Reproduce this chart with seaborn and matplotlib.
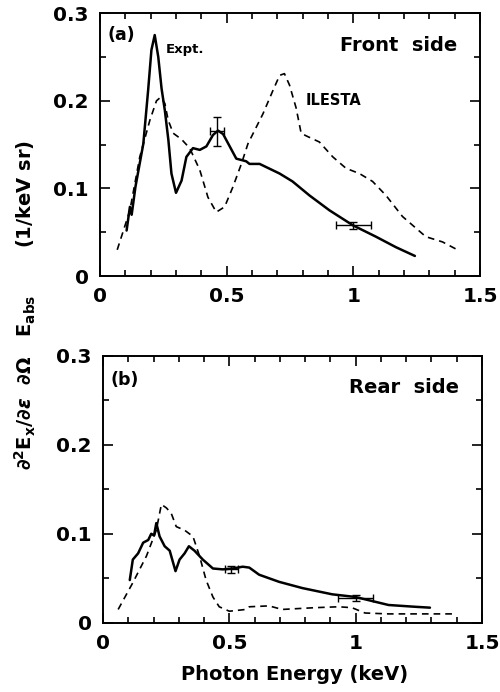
import numpy as np
import pandas as pd
import matplotlib
matplotlib.use("Agg")
import matplotlib.pyplot as plt
import seaborn as sns
from matplotlib.ticker import MultipleLocator, FuncFormatter

# ---------------- data ----------------
# Front side, experiment (solid)
front_expt_x = [0.105, 0.118, 0.125, 0.14, 0.171, 0.19, 0.203, 0.216, 0.23, 0.243, 0.256,
                0.27, 0.282, 0.30, 0.322, 0.341, 0.367, 0.394, 0.42, 0.446, 0.466, 0.486,
                0.512, 0.538, 0.577, 0.59, 0.63, 0.709, 0.76, 0.827, 0.906, 0.998, 1.089,
                1.168, 1.243]
front_expt_y = [0.052, 0.079, 0.070, 0.102, 0.151, 0.212, 0.258, 0.275, 0.250, 0.214, 0.189,
                0.155, 0.117, 0.095, 0.109, 0.136, 0.146, 0.144, 0.148, 0.161, 0.166, 0.162,
                0.148, 0.134, 0.131, 0.128, 0.128, 0.117, 0.108, 0.092, 0.075, 0.058, 0.045,
                0.033, 0.023]
# Front side, ILESTA (dashed)
front_sim_x = [0.068, 0.118, 0.157, 0.197, 0.223, 0.239, 0.256, 0.269, 0.289, 0.322, 0.354,
               0.394, 0.426, 0.459, 0.492, 0.525, 0.558, 0.584, 0.643, 0.683, 0.709, 0.728,
               0.748, 0.774, 0.794, 0.814, 0.866, 0.919, 0.971, 1.024, 1.076, 1.129, 1.194,
               1.286, 1.352, 1.411]
front_sim_y = [0.030, 0.075, 0.136, 0.178, 0.200, 0.204, 0.197, 0.178, 0.163, 0.156, 0.146,
               0.121, 0.090, 0.073, 0.079, 0.102, 0.128, 0.151, 0.185, 0.212, 0.229, 0.231,
               0.218, 0.192, 0.163, 0.160, 0.153, 0.136, 0.123, 0.117, 0.108, 0.092, 0.068,
               0.045, 0.039, 0.030]
front_err_x = [0.462, 1.0]
front_err_y = [0.165, 0.058]
front_err_dx = [0.026, 0.07]
front_err_dy = [0.016, 0.004]

# Rear side, experiment (solid)
rear_expt_x = [0.106, 0.118, 0.139, 0.159, 0.179, 0.191, 0.202, 0.211, 0.224, 0.244, 0.264,
               0.287, 0.303, 0.323, 0.34, 0.362, 0.395, 0.435, 0.474, 0.513, 0.553, 0.579,
               0.618, 0.697, 0.789, 0.907, 0.999, 1.13, 1.235, 1.294]
rear_expt_y = [0.048, 0.071, 0.078, 0.090, 0.093, 0.100, 0.098, 0.112, 0.097, 0.086, 0.081,
               0.058, 0.071, 0.078, 0.086, 0.081, 0.071, 0.061, 0.060, 0.061, 0.063, 0.062,
               0.054, 0.046, 0.039, 0.032, 0.029, 0.020, 0.018, 0.017]
# Rear side, ILESTA (dashed)
rear_sim_x = [0.06, 0.118, 0.172, 0.211, 0.231, 0.251, 0.27, 0.29, 0.323, 0.356, 0.382, 0.408,
              0.435, 0.46, 0.50, 0.566, 0.579, 0.657, 0.709, 0.84, 0.932, 0.985, 1.037, 1.129,
              1.234, 1.392]
rear_sim_y = [0.015, 0.045, 0.075, 0.104, 0.133, 0.129, 0.123, 0.108, 0.104, 0.097, 0.075,
              0.048, 0.029, 0.018, 0.013, 0.015, 0.018, 0.019, 0.015, 0.017, 0.018, 0.017,
              0.011, 0.010, 0.010, 0.010]
rear_err_x = [0.507, 1.0]
rear_err_y = [0.060, 0.028]
rear_err_dx = [0.026, 0.07]
rear_err_dy = [0.004, 0.003]

x_ticks = [0, 0.5, 1, 1.5]
y_ticks = [0, 0.1, 0.2, 0.3]

# ---------------- figure ----------------
sns.set_style("ticks")
plt.rcParams["font.family"] = ["DejaVu Sans"]
plt.rcParams["font.weight"] = "bold"
for k in ["text.color", "axes.labelcolor", "xtick.color", "ytick.color", "axes.edgecolor"]:
    plt.rcParams[k] = "black"

fig = plt.figure(figsize=(5.0, 6.92), dpi=100)
ax1 = fig.add_axes([0.200, 0.601, 0.760, 0.380])
ax2 = fig.add_axes([0.206, 0.100, 0.758, 0.386])


def fmt(v, pos):
    if abs(v) < 1e-9:
        return "0"
    s = ("%.1f" % v)
    if s.endswith(".0"):
        s = s[:-2]
    return s


def panel(ax, ex, ey, sx, sy, errx, erry, errdx, errdy):
    d_e = pd.DataFrame({"x": ex, "y": ey})
    d_s = pd.DataFrame({"x": sx, "y": sy})
    sns.lineplot(data=d_e, x="x", y="y", ax=ax, color="black", lw=1.8, sort=False,
                 estimator=None)
    sns.lineplot(data=d_s, x="x", y="y", ax=ax, color="black", lw=1.2, sort=False,
                 estimator=None, linestyle=(0, (4, 3)))
    ax.errorbar(errx, erry, xerr=errdx, yerr=errdy, fmt="none", ecolor="black",
                elinewidth=1.0, capsize=3)
    ax.set_xlim(0, 1.5)
    ax.set_ylim(0, 0.3)
    ax.set_xticks(x_ticks)
    ax.set_yticks(y_ticks)
    ax.xaxis.set_minor_locator(MultipleLocator(0.1))
    ax.yaxis.set_minor_locator(MultipleLocator(0.05))
    ax.xaxis.set_major_formatter(FuncFormatter(fmt))
    ax.yaxis.set_major_formatter(FuncFormatter(fmt))
    ax.tick_params(which="both", direction="in", top=True, right=True, width=1.2,
                   labelsize=14.5, pad=8, colors="black")
    ax.tick_params(which="major", length=7)
    ax.tick_params(which="minor", length=4)
    for lab in ax.get_xticklabels() + ax.get_yticklabels():
        lab.set_fontweight("bold")
    for sp in ax.spines.values():
        sp.set_linewidth(1.4)
        sp.set_color("black")
    ax.set_xlabel("")
    ax.set_ylabel("")


panel(ax1, front_expt_x, front_expt_y, front_sim_x, front_sim_y,
      front_err_x, front_err_y, front_err_dx, front_err_dy)
panel(ax2, rear_expt_x, rear_expt_y, rear_sim_x, rear_sim_y,
      rear_err_x, rear_err_y, rear_err_dx, rear_err_dy)

ax1.text(0.03, 0.275, "(a)", fontsize=12.5, fontweight="bold", va="center", ha="left")
ax1.text(0.26, 0.258, "Expt.", fontsize=9.5, fontweight="bold", va="center", ha="left")
ax1.text(0.81, 0.200, "ILESTA", fontsize=10.5, fontweight="bold", va="center", ha="left")
ax1.text(1.41, 0.263, "Front  side", fontsize=14, fontweight="bold", va="center", ha="right")

ax2.text(0.03, 0.273, "(b)", fontsize=12.5, fontweight="bold", va="center", ha="left")
ax2.text(1.41, 0.264, "Rear  side", fontsize=14, fontweight="bold", va="center", ha="right")

fig.text(0.5 * (0.2 + 0.96) + 0.01, 0.025, "Photon Energy (keV)", fontsize=14,
         fontweight="bold", ha="center", va="center")
fig.text(0.05, 0.56,
         r"$\partial^2\mathbf{E_x}/\partial\epsilon\ \ \partial\Omega\ \ \ \mathbf{E_{abs}}$"
         "       (1/keV sr)",
         rotation=90, fontsize=14, fontweight="bold", ha="center", va="center")

fig.savefig("out.png", dpi=100)
